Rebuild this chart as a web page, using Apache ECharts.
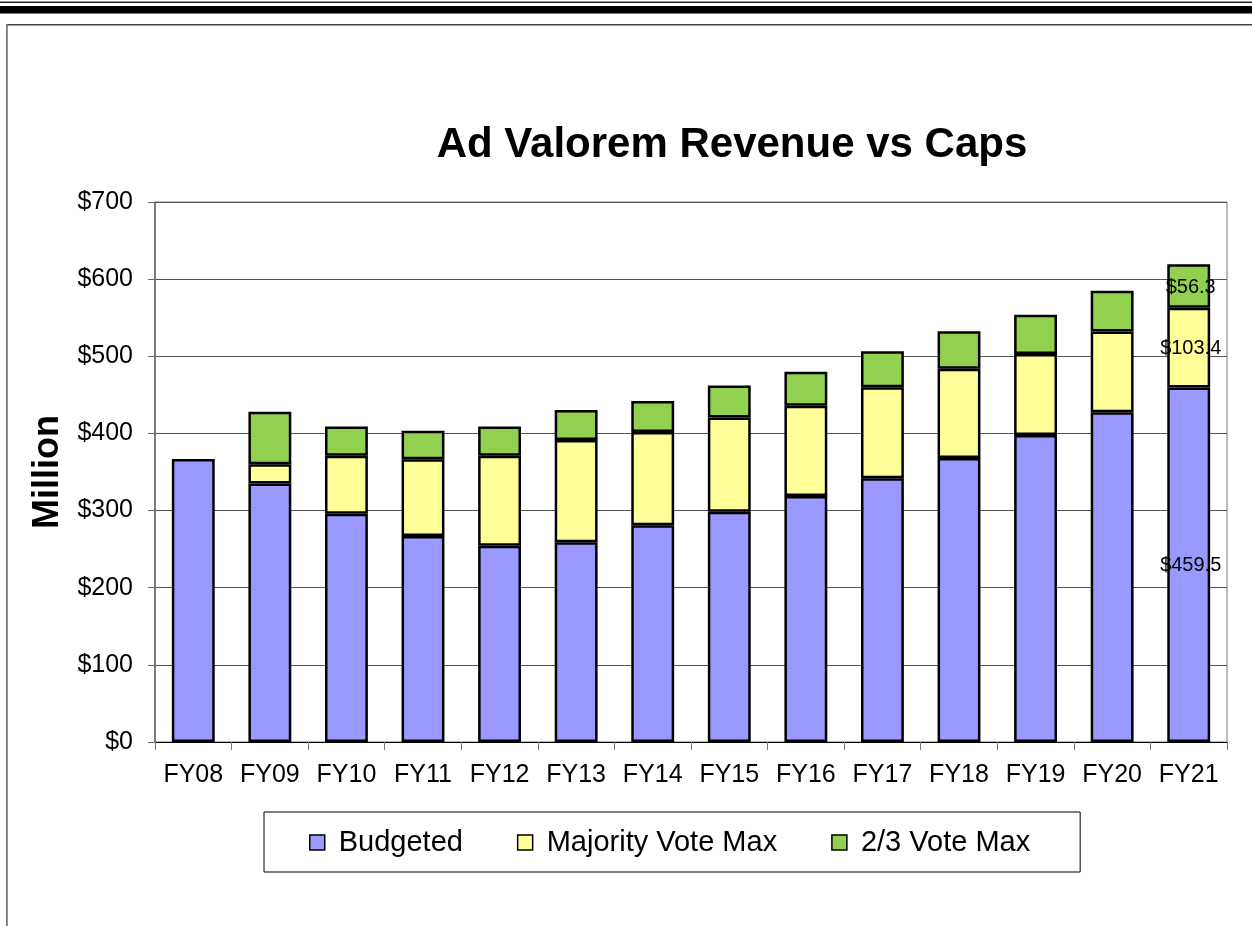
<!DOCTYPE html>
<html lang="en" style="height: 100%">
<head>
  <meta charset="utf-8">
</head>
<body style="height: 100%; margin: 0; background: #fff">
  <div id="container" style="width: 1252px; height: 926px"></div>

  <script type="text/javascript" src="https://cdn.jsdelivr.net/npm/echarts@6/dist/echarts.min.js"></script>
  <script type="text/javascript">
    // values ($ million)
    var years = ['FY08', 'FY09', 'FY10', 'FY11', 'FY12', 'FY13', 'FY14', 'FY15', 'FY16', 'FY17', 'FY18', 'FY19', 'FY20', 'FY21'];
    var budgeted = [367, 335, 296, 267, 254.5, 259, 281, 298.5, 319, 342, 368, 398, 427.5, 459.5];
    var majorityVote = [null, 25, 75, 99.5, 116.5, 132.5, 121, 122, 117, 118, 116, 105, 104.5, 103.4];
    var twoThirdsVote = [null, 68, 38, 37, 38, 39, 40, 41.5, 44, 46.5, 48.5, 51, 53, 56.3];
    var yTicks = [0, 100, 200, 300, 400, 500, 600, 700];

    var font = "'Liberation Sans', Arial, sans-serif";
    var dom = document.getElementById('container');
    var myChart = echarts.init(dom, null, { renderer: 'canvas' });

    // only the last year gets value labels
    function withLastLabel(arr) {
      return arr.map(function (v, i) {
        if (i !== arr.length - 1) return v;
        return {
          value: v,
          label: {
            show: true,
            position: 'inside',
            offset: [2, 1],
            fontFamily: font,
            fontSize: 20,
            color: '#000',
            formatter: function (p) { return '$' + p.value.toFixed(1); }
          }
        };
      });
    }

    function barSeries(name, data, color) {
      return {
        name: name,
        type: 'bar',
        stack: 'total',
        barWidth: '56%',
        data: withLastLabel(data),
        itemStyle: { color: color, borderColor: '#000', borderWidth: 2.5 },
        emphasis: { disabled: true }
      };
    }

    var option = {
      animation: false,
      backgroundColor: '#fff',
      textStyle: { fontFamily: font },
      title: {
        text: 'Ad Valorem Revenue vs Caps',
        left: 727,
        top: 119,
        textAlign: 'center',
        textStyle: { fontFamily: font, fontSize: 42, fontWeight: 'bold', color: '#000' }
      },
      legend: {
        left: 264,
        top: 812,
        padding: [16, 50, 15, 45],
        itemGap: 54,
        itemWidth: 15,
        itemHeight: 15,
        icon: 'rect',
        borderColor: '#000',
        borderWidth: 1,
        itemStyle: { borderColor: '#000', borderWidth: 1.5 },
        textStyle: { fontFamily: font, fontSize: 29, color: '#000', padding: [0, 0, 0, 9] },
        data: ['Budgeted', 'Majority Vote Max', '2/3 Vote Max']
      },
      grid: {
        left: 155,
        right: 25,
        top: 202,
        bottom: 184,
        show: true,
        borderColor: '#777',
        borderWidth: 1
      },
      xAxis: {
        type: 'category',
        data: years,
        axisLine: { lineStyle: { color: '#000', width: 1 } },
        axisTick: { show: true, interval: 0, length: 8, lineStyle: { color: '#777' } },
        axisLabel: { interval: 0, fontFamily: font, fontSize: 25, color: '#000', margin: 21 }
      },
      yAxis: {
        type: 'value',
        min: yTicks[0],
        max: yTicks[yTicks.length - 1],
        interval: 100,
        name: 'Million',
        nameLocation: 'middle',
        nameGap: 70,
        nameTextStyle: { fontFamily: font, fontSize: 36, fontWeight: 'bold', color: '#000' },
        axisLine: { show: true, lineStyle: { color: '#666', width: 1.5 } },
        axisTick: { show: true, length: 7, lineStyle: { color: '#666' } },
        axisLabel: {
          fontFamily: font, fontSize: 25, color: '#000', margin: 22,
          formatter: function (v) { return '$' + v; }
        },
        splitLine: { lineStyle: { color: '#555', width: 1 } }
      },
      graphic: [
        { type: 'rect', shape: { x: 0, y: 1.5, width: 1252, height: 1.5 }, style: { fill: '#222' } },
        { type: 'rect', shape: { x: 0, y: 6, width: 1252, height: 7.5 }, style: { fill: '#000' } },
        { type: 'rect', shape: { x: 6, y: 24, width: 1246, height: 1.5 }, style: { fill: '#444' } },
        { type: 'rect', shape: { x: 6, y: 24, width: 1.8, height: 902 }, style: { fill: '#777' } }
      ],
      series: [
        barSeries('Budgeted', budgeted, '#9999FF'),
        barSeries('Majority Vote Max', majorityVote, '#FFFF99'),
        barSeries('2/3 Vote Max', twoThirdsVote, '#92D050')
      ]
    };

    myChart.setOption(option);
    window.addEventListener('resize', myChart.resize);
  </script>
</body>
</html>
